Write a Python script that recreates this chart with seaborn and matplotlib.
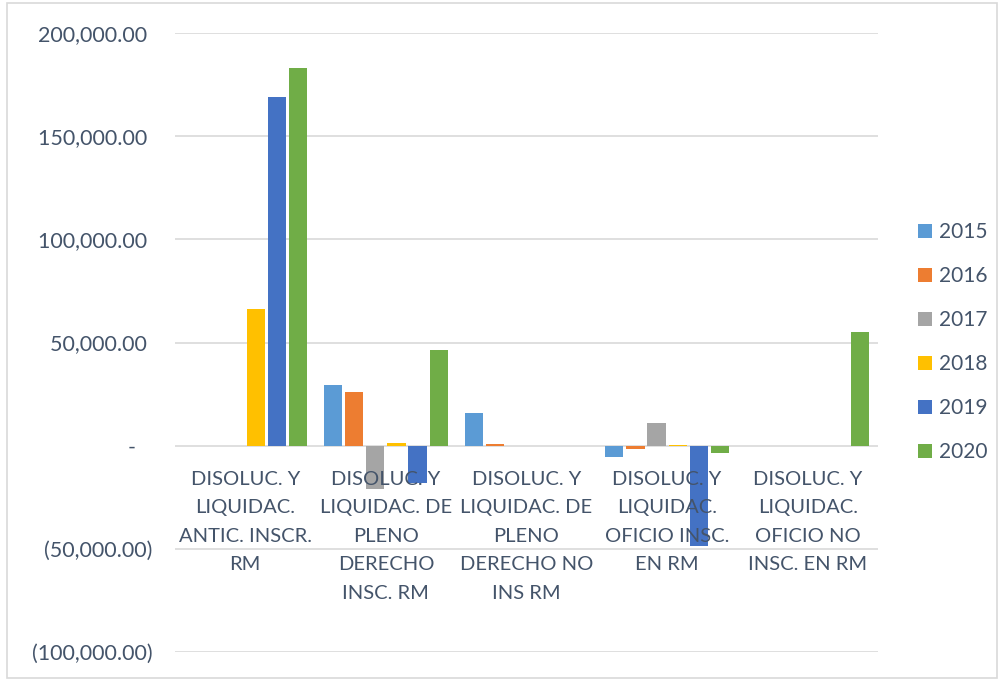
import matplotlib
matplotlib.use("Agg")
import matplotlib.pyplot as plt
import seaborn as sns
import pandas as pd
import numpy as np
from matplotlib.patches import Patch, Rectangle
from matplotlib.ticker import FuncFormatter

categories = [
    "DISOLUC. Y\nLIQUIDAC.\nANTIC. INSCR.\nRM",
    "DISOLUC. Y\nLIQUIDAC. DE\nPLENO\nDERECHO\nINSC. RM",
    "DISOLUC. Y\nLIQUIDAC. DE\nPLENO\nDERECHO NO\nINS RM",
    "DISOLUC. Y\nLIQUIDAC.\nOFICIO INSC.\nEN RM",
    "DISOLUC. Y\nLIQUIDAC.\nOFICIO NO\nINSC. EN RM",
]
years = ["2015", "2016", "2017", "2018", "2019", "2020"]
nan = np.nan
v2015 = [nan, 29500, 16000, -5300, nan]
v2016 = [nan, 26100, 800, -1500, nan]
v2017 = [nan, -20800, nan, 11100, nan]
v2018 = [66300, 1300, nan, 500, nan]
v2019 = [168900, -17900, nan, -48400, nan]
v2020 = [183000, 46500, nan, -3400, 55200]
colors = ["#5B9BD5", "#ED7D31", "#A5A5A5", "#FFC000", "#4472C4", "#70AD47"]

series = [v2015, v2016, v2017, v2018, v2019, v2020]
rows = []
for y, vals in zip(years, series):
    for c, v in zip(categories, vals):
        rows.append({"cat": c, "year": y, "val": v})
df = pd.DataFrame(rows).dropna()

sns.set_theme(style="white")
plt.rcParams["font.family"] = ["Lato", "DejaVu Sans"]
txt_color = "#44546A"

fig = plt.figure(figsize=(10.04, 6.79), dpi=100)
ax = fig.add_axes([175 / 1004, 27 / 679, 703 / 1004, 619 / 679])

sns.barplot(data=df, x="cat", y="val", hue="year", palette=colors,
            order=categories, hue_order=years, width=0.9, gap=0.14,
            legend=False, ax=ax, saturation=1, linewidth=0)

ax.set_ylim(-100000, 200000)
ax.set_xlim(-0.5, len(categories) - 0.5)
ax.set_yticks([-100000, -50000, 0, 50000, 100000, 150000, 200000])


def fmt(v, pos):
    if abs(v) < 1e-9:
        return "-   "
    if v < 0:
        return "({:,.2f})".format(-v)
    return "{:,.2f} ".format(v)


ax.yaxis.set_major_formatter(FuncFormatter(fmt))
ax.tick_params(axis="y", length=0, pad=16, labelsize=15.5, labelcolor=txt_color)
ax.set_xticks([])
ax.set_xlabel("")
ax.set_ylabel("")
for s in ax.spines.values():
    s.set_visible(False)
ax.yaxis.grid(True, color="#D9D9D9", linewidth=1.2)
ax.set_axisbelow(True)

for i, c in enumerate(categories):
    ax.annotate(c, xy=(i, 0), xytext=(0, -18), textcoords="offset points",
                ha="center", va="top", fontsize=14.5, color=txt_color,
                linespacing=1.82, zorder=5, annotation_clip=False)

handles = [Patch(facecolor=col, edgecolor="none") for col in colors]
fig.legend(handles, years, loc="center left",
           bbox_to_anchor=(918 / 1004, 1 - 342 / 679), frameon=False,
           fontsize=15, labelcolor=txt_color, handlelength=0.65,
           handleheight=0.65, handletextpad=0.35, labelspacing=1.15,
           borderpad=0, borderaxespad=0)

fig.patches.append(Rectangle((7 / 1004, 0.002), 990 / 1004, 0.993,
                             transform=fig.transFigure, fill=False,
                             edgecolor="#D9D9D9", linewidth=1.2))

fig.savefig("out.png", dpi=100)
